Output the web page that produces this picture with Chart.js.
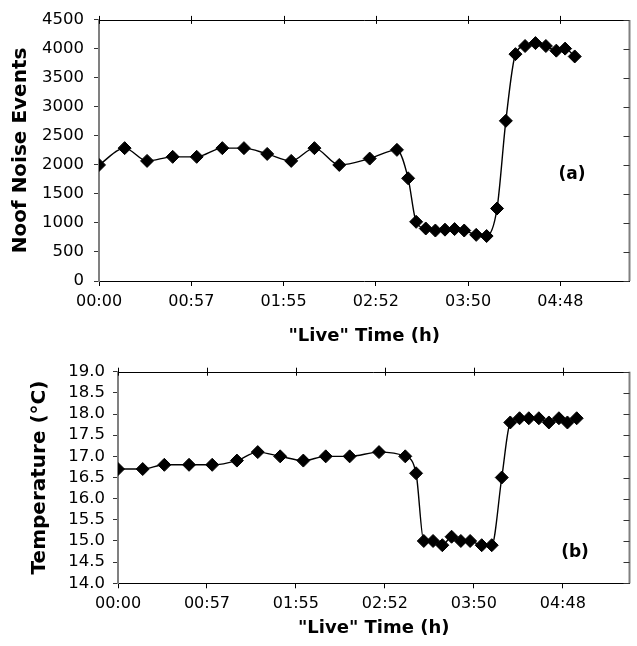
<!DOCTYPE html>
<html>
<head>
<meta charset="utf-8">
<script src="https://cdn.jsdelivr.net/npm/chart.js@4.4.0/dist/chart.umd.min.js"></script>
<style>
  html, body { margin: 0; padding: 0; background: #fff; }
  body { width: 637px; height: 646px; position: relative; overflow: hidden; }
  .box { position: absolute; left: 0; width: 637px; }
  #topBox { top: 0; height: 350px; }
  #botBox { top: 350px; height: 296px; }
</style>
</head>
<body>
<div class="box" id="topBox"><canvas id="noiseChart"></canvas></div>
<div class="box" id="botBox"><canvas id="tempChart"></canvas></div>
<script>
// sample times, minutes of "live" time
const minutes = [0, 16, 30, 46, 61, 77, 90.5, 105, 120, 134.5, 150, 169, 186, 193, 198, 204,
  210, 216, 222, 228, 235.5, 242, 248.5, 254, 260, 266, 272.5, 279, 285.5, 291, 297];
const noiseEvents = [2000, 2290, 2070, 2140, 2140, 2290, 2290, 2190, 2070, 2290, 2000, 2110, 2260, 1770, 1020, 905,
  870, 885, 895, 870, 795, 775, 1250, 2760, 3910, 4050, 4100, 4050, 3970, 4005, 3870];
const temperature = [16.7, 16.7, 16.8, 16.8, 16.8, 16.9, 17.1, 17.0, 16.9, 17.0, 17.0, 17.1, 17.0, 16.6, 15.0, 15.0,
  14.9, 15.1, 15.0, 15.0, 14.9, 14.9, 16.5, 17.8, 17.9, 17.9, 17.9, 17.8, 17.9, 17.8, 17.9];
const tickMinutes = [0, 57.6, 115.2, 172.8, 230.4, 288];
const tickLabels = ["00:00", "00:57", "01:55", "02:52", "03:50", "04:48"];
const xMax = 331.2;

Chart.defaults.font.family = "'DejaVu Sans', sans-serif";
Chart.defaults.color = "#000";

// top/right frame with Excel style tick marks, plus the panel tag
const framePlugin = {
  id: "frame",
  afterDraw(chart, args, opts) {
    const { ctx, chartArea: a, scales } = chart;
    ctx.save();
    ctx.lineWidth = 1;
    ctx.strokeStyle = "#000";
    ctx.beginPath();
    ctx.moveTo(a.left, Math.round(a.top) + 0.5);
    ctx.lineTo(a.right, Math.round(a.top) + 0.5);
    scales.x.ticks.forEach(t => {
      const px = Math.round(scales.x.getPixelForValue(t.value)) + 0.5;
      ctx.moveTo(px, a.top - 4);
      ctx.lineTo(px, a.top + 4);
    });
    ctx.stroke();

    ctx.strokeStyle = "#808080";
    ctx.lineWidth = 2;
    ctx.beginPath();
    ctx.moveTo(a.right, a.top);
    ctx.lineTo(a.right, a.bottom);
    ctx.stroke();
    ctx.lineWidth = 1;
    ctx.strokeStyle = "#333";
    ctx.beginPath();
    scales.y.ticks.forEach(t => {
      const py = Math.round(scales.y.getPixelForValue(t.value)) + 0.5;
      ctx.moveTo(a.right - 6, py);
      ctx.lineTo(a.right, py);
    });
    ctx.stroke();

    ctx.font = "bold 17px 'DejaVu Sans'";
    ctx.fillStyle = "#000";
    ctx.textAlign = "center";
    ctx.textBaseline = "middle";
    ctx.fillText(opts.tag, opts.tagX, opts.tagY);
    ctx.restore();
  }
};

function series(values) {
  return {
    data: minutes.map((m, i) => ({ x: m, y: values[i] })),
    borderColor: "#000",
    borderWidth: 1.4,
    backgroundColor: "#000",
    pointStyle: "rectRot",
    pointRadius: 6.5,
    pointBorderWidth: 1,
    pointBorderColor: "#000",
    cubicInterpolationMode: "monotone"
  };
}

function xAxis(height, labelPad, titlePad) {
  return {
    type: "linear",
    min: 0,
    max: xMax,
    afterBuildTicks: s => { s.ticks = tickMinutes.map(v => ({ value: v })); },
    afterFit: s => { s.height = height; },
    ticks: { callback: (v, i) => tickLabels[i], font: { size: 16 }, padding: labelPad, maxRotation: 0, autoSkip: false },
    grid: { drawOnChartArea: false, tickLength: 5, color: "#000" },
    border: { color: "#000", width: 1 },
    title: { display: true, text: '"Live" Time (h)', font: { size: 18, weight: "bold" }, padding: { top: 0, bottom: titlePad } }
  };
}

// (a) noise events
const noiseCtx = document.getElementById("noiseChart").getContext("2d");
const noiseChart = new Chart(noiseCtx, {
  type: "line",
  data: { datasets: [series(noiseEvents)] },
  plugins: [framePlugin],
  options: {
    responsive: true,
    maintainAspectRatio: false,
    animation: false,
    layout: { padding: { top: 16, right: 4, left: 0, bottom: 0 } },
    plugins: {
      legend: { display: false },
      tooltip: { enabled: false },
      frame: { tag: "(a)", tagX: 572, tagY: 175 }
    },
    scales: {
      x: xAxis(69, 6.5, 3),
      y: {
        min: 0,
        max: 4500,
        afterFit: s => { s.width = 99; },
        ticks: { stepSize: 500, font: { size: 16.5 }, padding: 10, autoSkip: false, callback: v => String(v) },
        grid: { drawOnChartArea: false, tickLength: 5, color: "#333" },
        border: { color: "#808080", width: 2 },
        title: { display: true, text: "Noof Noise Events", font: { size: 20, weight: "bold" }, padding: { top: 9, bottom: 0 } }
      }
    }
  }
});

// (b) temperature
const tempCtx = document.getElementById("tempChart").getContext("2d");
const tempChart = new Chart(tempCtx, {
  type: "line",
  data: { datasets: [series(temperature)] },
  plugins: [framePlugin],
  options: {
    responsive: true,
    maintainAspectRatio: false,
    animation: false,
    layout: { padding: { top: 21.7, right: 4, left: 0, bottom: 0 } },
    plugins: {
      legend: { display: false },
      tooltip: { enabled: false },
      frame: { tag: "(b)", tagX: 575, tagY: 202.5 }
    },
    scales: {
      x: xAxis(62.7, 5.5, 6.5),
      y: {
        min: 14,
        max: 19,
        afterFit: s => { s.width = 118; },
        ticks: { stepSize: 0.5, font: { size: 16.5 }, padding: 8, autoSkip: false, callback: v => v.toFixed(1) },
        grid: { drawOnChartArea: false, tickLength: 5, color: "#333" },
        border: { color: "#808080", width: 2 },
        title: { display: true, text: "Temperature (°C)", font: { size: 20, weight: "bold" }, padding: { top: 27.5, bottom: 0 } }
      }
    }
  }
});
</script>
</body>
</html>
